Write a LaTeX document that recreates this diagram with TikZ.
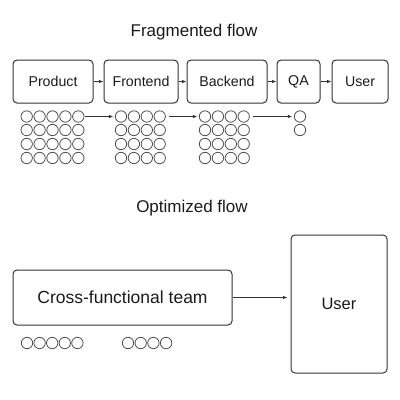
\documentclass[tikz,border=0pt]{standalone}
\usepackage{fontspec}
\setmainfont{Liberation Sans}
\usetikzlibrary{arrows.meta}
\definecolor{ln}{HTML}{333333}
\definecolor{tx}{HTML}{1A1A1A}
\begin{document}
\begin{tikzpicture}[x=1pt,y=-1pt,
  box/.style={draw=ln,line width=1pt,rounded corners=4pt,inner sep=0pt,text=tx},
  dot/.style={draw=ln!85,line width=0.8pt,circle,minimum size=11.4pt,inner sep=0pt},
  arr/.style={draw=ln,line width=0.9pt,-{Latex[length=4.5pt,width=3.5pt]}},
  ttl/.style={text=tx,font=\fontsize{17}{20}\selectfont}]
\useasboundingbox (0,0) rectangle (400,400);
\node[ttl] (t1) at (194,32) {Fragmented flow};
\node[ttl] (t2) at (192,208) {Optimized flow};
% top boxes
\begin{scope}[every node/.append style={font=\fontsize{14.2}{16}\selectfont}]
\node[box,minimum width=80pt,minimum height=43pt] (prod) at (53,81.5) {Product};
\node[box,minimum width=74pt,minimum height=43pt] (fe) at (141,81.5) {Frontend};
\node[box,minimum width=80pt,minimum height=43pt] (be) at (227,81.5) {Backend};
\node[box,minimum width=43pt,minimum height=43pt] (qa) at (298.5,81.5) {QA};
\node[box,minimum width=56pt,minimum height=43pt] (us) at (360,81.5) {User};
\end{scope}
\draw[arr] (prod) -- (fe);
\draw[arr] (fe) -- (be);
\draw[arr] (be) -- (qa);
\draw[arr] (qa) -- (us);
% circles
\foreach \r/\y in {1/116.5,2/130,3/144,4/158}{
  \foreach \c in {1,...,5}{\node[dot] (p-\r-\c) at ({26.7+(\c-1)*12.9},\y) {};}
  \foreach \c in {1,...,4}{\node[dot] (f-\r-\c) at ({121+(\c-1)*12.9},\y) {};}
  \foreach \c in {1,...,4}{\node[dot] (b-\r-\c) at ({205+(\c-1)*12.9},\y) {};}
}
\node[dot] (q-1-1) at (300,116.5) {};
\node[dot] (q-2-1) at (300,130) {};
\draw[arr,shorten <=1pt,shorten >=1.5pt] (p-1-5) -- (f-1-1);
\draw[arr,shorten <=3pt,shorten >=1.5pt] (f-1-4) -- (b-1-1);
\draw[arr,shorten <=3pt,shorten >=1.5pt] (b-1-4) -- (q-1-1);
% bottom
\node[box,minimum width=219pt,minimum height=55pt,font=\fontsize{17.5}{20}\selectfont] (team) at (122.5,297.5) {Cross-functional team};
\node[box,minimum width=96pt,minimum height=138pt,font=\fontsize{16.5}{20}\selectfont] (us2) at (339,304) {User};
\draw[arr,shorten >=3pt] (team.east) -- (team.east -| us2.west);
\foreach \c in {1,...,5}{\node[dot] (x-\c) at ({27+(\c-1)*12.6},343) {};}
\foreach \c in {1,...,4}{\node[dot] (y-\c) at ({128+(\c-1)*12.7},343) {};}
\end{tikzpicture}
\end{document}
